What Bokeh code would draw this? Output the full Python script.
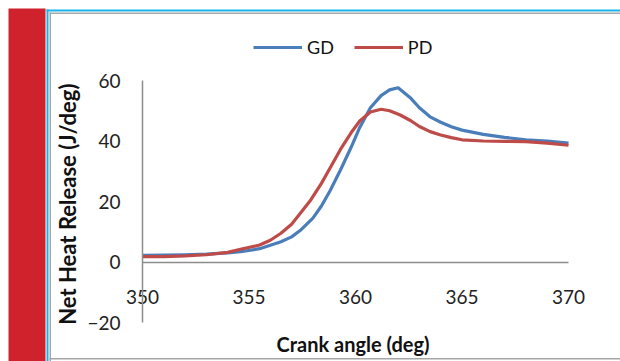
from bokeh.plotting import figure
from bokeh.models import FixedTicker, Legend, LegendItem, BoxAnnotation, LinearAxis
from bokeh.embed import file_html
from bokeh.resources import INLINE

# ---- data ----
crank_gd = [350, 351, 352, 353, 354, 354.6, 355.5, 356.5, 357, 357.4, 358, 358.4,
            358.8, 359.3, 359.8, 360.2, 360.7, 361.2, 361.6, 362, 362.6, 363,
            363.5, 364, 364.5, 365, 366, 367, 368, 369, 370]
heat_gd = [2.2, 2.3, 2.4, 2.6, 3.0, 3.4, 4.4, 6.7, 8.3, 10.4, 14.5, 18.5,
           23.5, 30.5, 38.0, 44.5, 51.0, 55.0, 56.9, 57.6, 54.1, 51.0,
           48.0, 46.2, 44.7, 43.6, 42.2, 41.2, 40.4, 40.0, 39.3]

crank_pd = [350, 351, 352, 353, 354, 354.6, 355.5, 356, 356.5, 357, 357.4, 357.9,
            358.4, 358.8, 359.3, 359.8, 360.2, 360.7, 361.2, 361.6, 362.1, 362.6,
            363, 363.5, 364, 364.5, 365, 366, 367, 368, 369, 370]
heat_pd = [1.8, 1.8, 2.0, 2.4, 3.2, 4.2, 5.6, 7.2, 9.5, 12.5, 16.0, 20.5,
           26.0, 31.0, 37.3, 42.8, 46.6, 49.6, 50.5, 50.0, 48.6, 46.7,
           44.8, 43.1, 42.0, 41.1, 40.4, 40.0, 39.9, 39.8, 39.3, 38.6]

x_ticks = [350, 355, 360, 365, 370]
y_ticks = [-20, 0, 20, 40, 60]
series_names = ["GD", "PD"]

W, H = 620, 361
FONT = "Lato"
AXIS_GRAY = "#8c8c8c"

# pixel placement of the plot area inside the canvas
FL, FR, FT, FB = 142, 568, 80, 322
XMIN, XMAX, YMIN, YMAX = 350, 370, -20, 60
sx = (FR - FL) / (XMAX - XMIN)
sy = (FB - FT) / (YMAX - YMIN)
x_range = (XMIN - FL / sx, XMAX + (W - FR) / sx)
y_range = (YMIN - (H - FB) / sy, YMAX + FT / sy)

p = figure(width=W, height=H, output_backend="svg", toolbar_location=None,
           x_range=x_range, y_range=y_range,
           x_axis_type=None, y_axis_type=None,
           min_border=0)
p.outline_line_color = None
p.background_fill_color = "white"
p.border_fill_color = "white"
p.xgrid.visible = False
p.ygrid.visible = False


def canvas_box(l, r, t, b, color):
    p.add_layout(BoxAnnotation(left=l, right=r, top=t, bottom=b,
                               left_units="canvas", right_units="canvas",
                               top_units="canvas", bottom_units="canvas",
                               fill_color=color, fill_alpha=1, line_color=None))


# frame decorations (red side band, cyan and gray borders)
canvas_box(8, 45, 8, H, "#d0222c")
canvas_box(46, 48, 9, H, "#19b4ea")
canvas_box(46, W, 9, 11, "#19b4ea")
canvas_box(49, 50.5, 12, H, "#a6a6a6")
canvas_box(49, W, 12, 13.5, "#a6a6a6")
canvas_box(49, W, 357.5, 359, "#a6a6a6")

# axes
yax = LinearAxis(ticker=FixedTicker(ticks=y_ticks), fixed_location=XMIN,
                 bounds=(YMIN, YMAX),
                 axis_label="Net Heat Release  (J/deg)")
yax.axis_line_color = AXIS_GRAY
yax.axis_line_width = 1.5
yax.major_tick_line_color = None
yax.minor_tick_line_color = None
yax.major_tick_out = 0
yax.major_label_standoff = 22
yax.major_label_text_font = FONT
yax.major_label_text_font_size = "19px"
yax.major_label_text_color = "#222222"
yax.axis_label_text_font = FONT
yax.axis_label_text_font_style = "bold"
yax.axis_label_text_font_size = "22px"
yax.axis_label_text_color = "#111111"
yax.axis_label_standoff = 3
p.add_layout(yax, "left")

xax = LinearAxis(ticker=FixedTicker(ticks=x_ticks), fixed_location=0,
                 bounds=(XMIN, XMAX),
                 axis_label="Crank angle  (deg)")
xax.axis_line_color = AXIS_GRAY
xax.axis_line_width = 1.5
xax.major_tick_line_color = None
xax.minor_tick_line_color = None
xax.major_tick_out = 0
xax.major_label_standoff = 28
xax.major_label_text_font = FONT
xax.major_label_text_font_size = "19px"
xax.major_label_text_color = "#222222"
xax.axis_label_text_font = FONT
xax.axis_label_text_font_style = "bold"
xax.axis_label_text_font_size = "20px"
xax.axis_label_text_color = "#111111"
xax.axis_label_standoff = 24
p.add_layout(xax, "below")

# series
r_gd = p.line(crank_gd, heat_gd, line_color="#4a7ebb", line_width=3.2,
              line_join="round")
r_pd = p.line(crank_pd, heat_pd, line_color="#be4b48", line_width=3.2,
              line_join="round")

legend = Legend(items=[LegendItem(label=series_names[0], renderers=[r_gd]),
                       LegendItem(label=series_names[1], renderers=[r_pd])],
                orientation="horizontal", location=(253, 303),
                padding=0, margin=0, spacing=20,
                glyph_width=49, glyph_height=20, label_standoff=5,
                border_line_color=None, background_fill_alpha=0,
                label_text_font=FONT, label_text_font_size="18px",
                label_text_color="#111111")
p.add_layout(legend)

open("out.html", "w").write(file_html(p, INLINE))
